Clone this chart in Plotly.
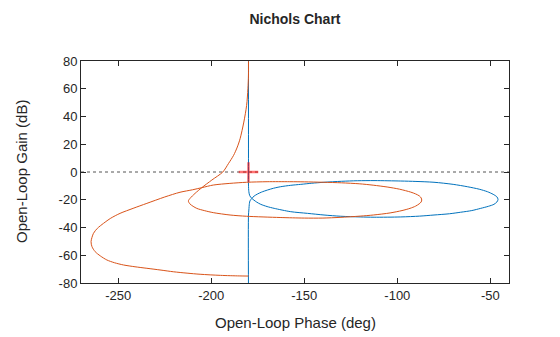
import plotly.graph_objects as go

# Blue response (phase deg, gain dB)
blue_phase = [-180, -180, -180, -179.8, -179.3, -178.2, -175.8, -173.4, -170, -166.2, -157.3, -148.3,
              -139.4, -130.4, -120, -112.5, -98.2, -88, -80.3, -72, -66, -60, -55.2, -51, -48.1, -46.5,
              -45.9, -46.5, -48.5, -51.6, -56, -62.4, -70, -80.3, -90, -98.2, -112, -121.5, -130, -139.4,
              -146, -151.9, -157.3, -162.7, -166.5, -169.8, -173, -175.2, -177, -178.2, -179.2, -179.5,
              -179.8, -180, -180]
blue_gain = [85, 0, -9.4, -14.2, -17.1, -19, -21.5, -23.3, -24.9, -26.2, -28.6, -29.8,
             -31, -31.9, -32.4, -32.6, -32.4, -31.8, -31, -30.1, -29, -27.8, -26.2, -24.7, -23.3, -21.6,
             -19.8, -17.9, -16.1, -14.2, -12.4, -10.6, -8.9, -7.4, -6.8, -6.5, -6.2, -6.3, -6.7, -7.4,
             -8.1, -8.9, -9.6, -10.6, -11.7, -13, -14.5, -15.9, -17.4, -19, -20.8, -22.6,
             -27.4, -31, -85]

# Orange response (phase deg, gain dB)
orange_phase = [-180, -180, -180.3, -181, -182.5, -184.5, -186, -188, -190.8, -193.8, -199.7, -205.1,
                -208.7, -211.4, -212.3, -211.4, -207.8, -203.5, -198.9, -189.9, -181, -163, -150, -140,
                -130.8, -120, -112.9, -103.9, -97.5, -93.2, -90.2, -88.3, -87.2, -86.9, -87.2, -88.2, -90.2,
                -92.8, -98.8, -105.5, -113, -120.5, -130, -139.8, -150, -157.8, -170, -181, -190, -198.9,
                -205.1, -210, -216.8, -225, -234.6, -242, -249, -254, -257.9, -261.2, -263.3, -264.6,
                -264.1, -262.4, -259.6, -256.1, -252, -247.2, -241, -234.6, -227, -220.4, -213, -206,
                -195, -185, -180]
orange_gain = [85, 70, 60, 48, 36, 24, 18, 12, 6, 0, -5.8, -11.3,
               -15.4, -19, -20.9, -23.1, -26.2, -27.9, -29.3, -31, -31.9, -32.8, -33.2, -33.2,
               -32.7, -31.8, -31, -29.5, -27.8, -26.2, -24.6, -23, -21.6, -20.2, -18.7, -17.2, -15.8,
               -14.5, -12.4, -10.8, -9.5, -8.5, -7.8, -7.4, -7.1, -7.0, -7.0, -7.4, -8.2, -9.4,
               -11.3, -12.8, -14.6, -18, -22.6, -26.2, -29.8, -33.3, -37, -40.6, -44.2, -50.2,
               -53.8, -57.4, -60.5, -63.4, -65.4, -67, -68.3, -69.4, -70.7, -71.9, -72.9, -73.7,
               -74.5, -74.9, -75]

crit_phase = [-180]
crit_gain = [0]

x_ticks = [-250, -200, -150, -100, -50]
y_ticks = [-80, -60, -40, -20, 0, 20, 40, 60, 80]

FONT = "Liberation Sans, Arial, sans-serif"
TXT = "#262626"

fig = go.Figure()
fig.add_trace(go.Scatter(x=[-270, -40], y=[0, 0], mode="lines",
                         line=dict(color="#555555", width=1, dash="dot"),
                         hoverinfo="skip", showlegend=False))
fig.add_trace(go.Scatter(x=blue_phase, y=blue_gain, mode="lines",
                         line=dict(color="#0072BD", width=1, shape="spline", smoothing=0.8),
                         showlegend=False))
fig.add_trace(go.Scatter(x=orange_phase, y=orange_gain, mode="lines",
                         line=dict(color="#D95319", width=1, shape="spline", smoothing=0.8),
                         showlegend=False))
fig.add_trace(go.Scatter(x=crit_phase, y=crit_gain, mode="markers",
                         marker=dict(symbol="cross-thin", size=14,
                                     line=dict(color="rgba(255,0,0,0.55)", width=2.5)),
                         showlegend=False))

axis_common = dict(showline=True, linecolor=TXT, linewidth=1, mirror="allticks",
                   ticks="inside", ticklen=5, tickcolor=TXT, showgrid=False,
                   zeroline=False, tickfont=dict(family=FONT, size=13, color=TXT))

L, R, T, B = 81, 51, 61, 54
W, H = 560, 337

fig.update_layout(
    width=W, height=H,
    margin=dict(l=L, r=R, t=T, b=B),
    paper_bgcolor="white", plot_bgcolor="white",
    title=dict(text="<b>Nichols Chart</b>", x=(L + W - R) / 2 / W, xanchor="center",
               y=1 - 19 / H, yanchor="middle",
               font=dict(family=FONT, size=14, color=TXT)),
    xaxis=dict(range=[-270, -40], tickvals=x_ticks, ticktext=[str(v) for v in x_ticks],
               **axis_common),
    yaxis=dict(range=[-80, 80], tickvals=y_ticks, ticktext=[str(v) for v in y_ticks],
               **axis_common),
    annotations=[
        dict(text="Open-Loop Phase (deg)", xref="paper", yref="paper",
             x=0.5, y=-(322 - (H - B)) / (H - T - B), xanchor="center", yanchor="middle",
             showarrow=False, font=dict(family=FONT, size=15, color=TXT)),
        dict(text="Open-Loop Gain (dB)", xref="paper", yref="paper", textangle=-90,
             x=-(L - 21) / (W - L - R), y=0.5, xanchor="center", yanchor="middle",
             showarrow=False, font=dict(family=FONT, size=15, color=TXT)),
    ],
)

fig.write_html("out.html")
